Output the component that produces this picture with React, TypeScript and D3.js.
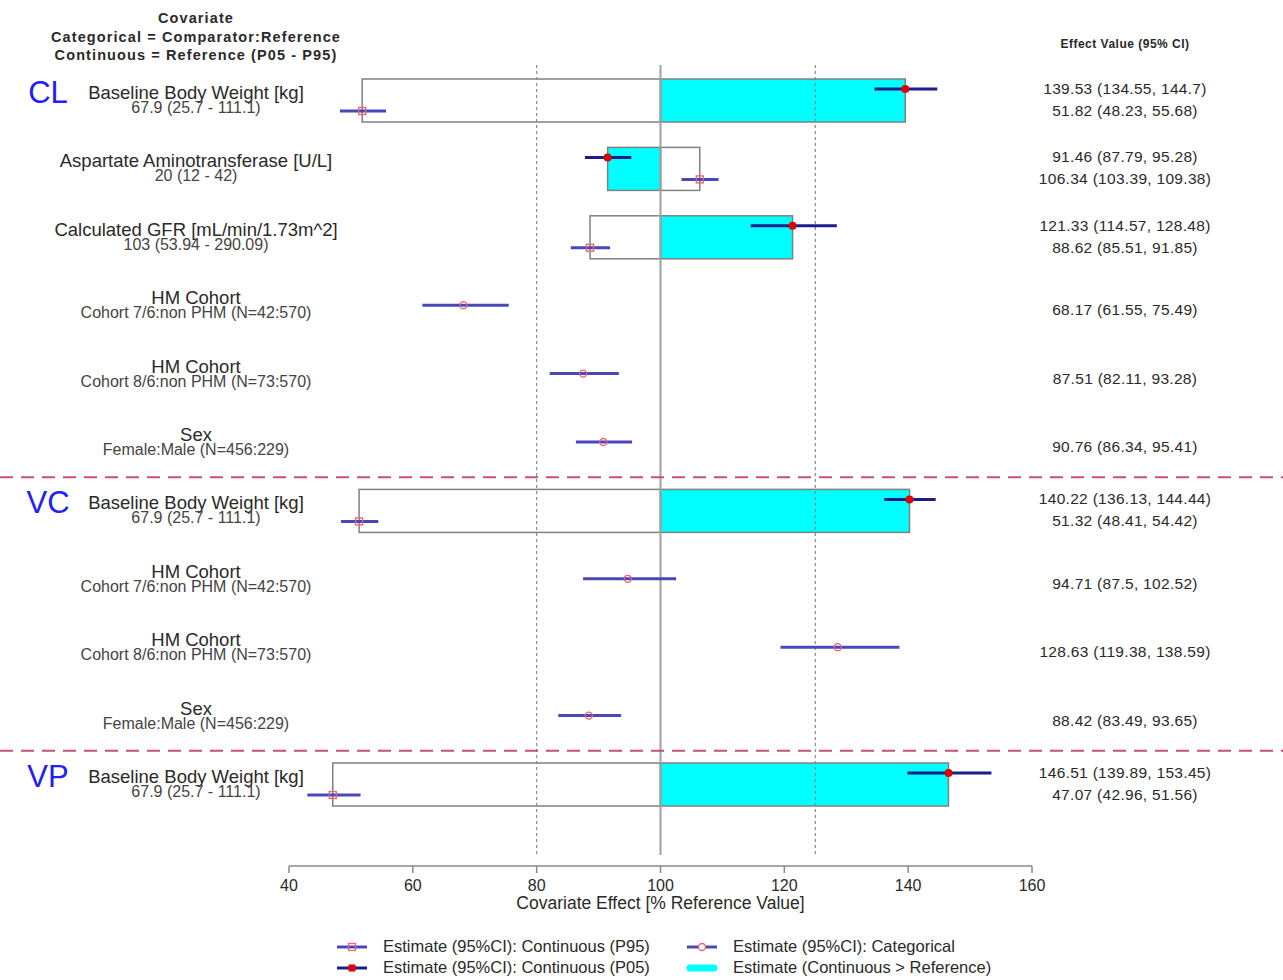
import React from "react";
import * as d3 from "d3";

// ---------- data ----------
const blockNames = ["CL", "VC", "VP"];
const blockStartRow = [0, 6, 10];
const rowLabels = [
  "Baseline Body Weight [kg]",
  "Aspartate Aminotransferase [U/L]",
  "Calculated GFR [mL/min/1.73m^2]",
  "HM Cohort",
  "HM Cohort",
  "Sex",
  "Baseline Body Weight [kg]",
  "HM Cohort",
  "HM Cohort",
  "Sex",
  "Baseline Body Weight [kg]",
];
const rowSubLabels = [
  "67.9 (25.7 - 111.1)",
  "20 (12 - 42)",
  "103 (53.94 - 290.09)",
  "Cohort 7/6:non PHM (N=42:570)",
  "Cohort 8/6:non PHM (N=73:570)",
  "Female:Male (N=456:229)",
  "67.9 (25.7 - 111.1)",
  "Cohort 7/6:non PHM (N=42:570)",
  "Cohort 8/6:non PHM (N=73:570)",
  "Female:Male (N=456:229)",
  "67.9 (25.7 - 111.1)",
];
const rowType = ["cont", "cont", "cont", "cat", "cat", "cat", "cont", "cat", "cat", "cat", "cont"];
// first estimate (upper line of continuous rows, or the categorical estimate)
const est1 = [139.53, 91.46, 121.33, 68.17, 87.51, 90.76, 140.22, 94.71, 128.63, 88.42, 146.51];
const lo1 = [134.55, 87.79, 114.57, 61.55, 82.11, 86.34, 136.13, 87.5, 119.38, 83.49, 139.89];
const hi1 = [144.7, 95.28, 128.48, 75.49, 93.28, 95.41, 144.44, 102.52, 138.59, 93.65, 153.45];
// second estimate (lower line of continuous rows)
const est2 = [51.82, 106.34, 88.62, null, null, null, 51.32, null, null, null, 47.07];
const lo2 = [48.23, 103.39, 85.51, null, null, null, 48.41, null, null, null, 42.96];
const hi2 = [55.68, 109.38, 91.85, null, null, null, 54.42, null, null, null, 51.56];

const xTicks = [40, 60, 80, 100, 120, 140, 160];
const refValue = 100;
const dottedRefs = [80, 125];

const legendItems = [
  "Estimate (95%CI): Continuous (P95)",
  "Estimate (95%CI): Continuous (P05)",
  "Estimate (95%CI): Categorical",
  "Estimate (Continuous > Reference)",
];

// ---------- styles ----------
const W = 1283;
const H = 980;
const FONT = "'Liberation Sans', Arial, Helvetica, sans-serif";
const TEXT = "#2a2a2a";
const CYAN = "#00ffff";
const BAR_STROKE = "#808080";
const LINE_DARK = "#1c1c8c";
const LINE_LIGHT = "#4848b8";
const RED = "#dd0000";
const PINK = "#f06070";
const SEP = "#c4507c";

const x = d3.scaleLinear().domain([40, 160]).range([289, 1032]);
const y = d3.scaleLinear().domain([0, rowLabels.length - 1]).range([100, 784]);
const PAIR = 11;
const BAR_TOP = 21;
const BAR_H = 43;

const fmt = (v: number) => String(v);

export default function App() {
  const rows = d3.range(rowLabels.length);
  const sepRows = blockStartRow.slice(1);
  return (
    <svg
      width={W}
      height={H}
      style={{ position: "absolute", left: 0, top: 0, background: "#fff" }}
      fontFamily={FONT}
    >
      <rect x={0} y={0} width={W} height={H} fill="#fff" />
      {/* header */}
      <g fill={TEXT} fontSize={14.5} fontWeight={600} textAnchor="middle" letterSpacing={1.1}>
        <text x={196} y={23}>Covariate</text>
        <text x={196} y={42}>Categorical = Comparator:Reference</text>
        <text x={196} y={60}>Continuous = Reference (P05 - P95)</text>
      </g>
      <text x={1125} y={48} fontSize={12} fontWeight={700} textAnchor="middle" fill={TEXT} letterSpacing={0.5}>
        Effect Value (95% CI)
      </text>

      {/* bars for continuous rows */}
      {rows.map((i) =>
        rowType[i] === "cont" ? (
          <g key={"bar" + i}>
            <rect
              x={Math.min(x(est2[i] as number), x(refValue))}
              y={y(i) - BAR_TOP}
              width={Math.abs(x(est2[i] as number) - x(refValue))}
              height={BAR_H}
              fill="#fff"
              stroke={BAR_STROKE}
              strokeWidth={1.5}
            />
            <rect
              x={Math.min(x(est1[i]), x(refValue))}
              y={y(i) - BAR_TOP}
              width={Math.abs(x(est1[i]) - x(refValue))}
              height={BAR_H}
              fill={CYAN}
              stroke={BAR_STROKE}
              strokeWidth={1.5}
            />
          </g>
        ) : null
      )}

      {/* reference lines */}
      {dottedRefs.map((v) => (
        <line key={v} x1={x(v)} x2={x(v)} y1={65} y2={855} stroke="#888" strokeWidth={1.2} strokeDasharray="3,3" />
      ))}
      <line x1={x(refValue)} x2={x(refValue)} y1={65} y2={855} stroke="#a0a0a0" strokeWidth={2} />

      {/* separators */}
      {sepRows.map((r) => {
        const yy = (y(r - 1) + y(r)) / 2 + 1;
        return <line key={"sep" + r} x1={0} x2={W} y1={yy} y2={yy} stroke={SEP} strokeWidth={2} strokeDasharray="13,8" />;
      })}

      {/* block labels */}
      {blockNames.map((b, k) => (
        <text key={b} x={48} y={y(blockStartRow[k]) + 3} fontSize={31} fill="#2020ff" textAnchor="middle">
          {b}
        </text>
      ))}

      {/* row labels */}
      {rows.map((i) => (
        <g key={"lab" + i} textAnchor="middle">
          <text x={196} y={y(i) - 1} fontSize={18.5} fill={TEXT}>
            {rowLabels[i]}
          </text>
          <text x={196} y={y(i) + 13} fontSize={16} fill="#444">
            {rowSubLabels[i]}
          </text>
        </g>
      ))}

      {/* CIs and points */}
      {rows.map((i) => {
        if (rowType[i] === "cont") {
          const y1 = y(i) - PAIR;
          const y2 = y(i) + PAIR;
          const e2 = est2[i] as number;
          return (
            <g key={"ci" + i}>
              <line x1={x(lo1[i])} x2={x(hi1[i])} y1={y1} y2={y1} stroke={LINE_DARK} strokeWidth={3} />
              <circle cx={x(est1[i])} cy={y1} r={4} fill={RED} />
              <line x1={x(lo2[i] as number)} x2={x(hi2[i] as number)} y1={y2} y2={y2} stroke={LINE_LIGHT} strokeWidth={3} />
              <rect x={x(e2) - 3.5} y={y2 - 3.5} width={7} height={7} fill="none" stroke={PINK} strokeWidth={1.3} />
            </g>
          );
        }
        return (
          <g key={"ci" + i}>
            <line x1={x(lo1[i])} x2={x(hi1[i])} y1={y(i)} y2={y(i)} stroke={LINE_LIGHT} strokeWidth={3} />
            <circle cx={x(est1[i])} cy={y(i)} r={3.5} fill="none" stroke={PINK} strokeWidth={1.3} />
          </g>
        );
      })}

      {/* effect value texts */}
      {rows.map((i) =>
        rowType[i] === "cont" ? (
          <g key={"val" + i} fontSize={15.5} fill={TEXT} textAnchor="middle" letterSpacing={0.3}>
            <text x={1125} y={y(i) - PAIR + 5}>{`${fmt(est1[i])} (${fmt(lo1[i])}, ${fmt(hi1[i])})`}</text>
            <text x={1125} y={y(i) + PAIR + 5}>{`${fmt(est2[i] as number)} (${fmt(lo2[i] as number)}, ${fmt(hi2[i] as number)})`}</text>
          </g>
        ) : (
          <text key={"val" + i} x={1125} y={y(i) + 10} fontSize={15.5} fill={TEXT} textAnchor="middle" letterSpacing={0.3}>
            {`${fmt(est1[i])} (${fmt(lo1[i])}, ${fmt(hi1[i])})`}
          </text>
        )
      )}

      {/* x axis */}
      <g>
        <line x1={x(40)} x2={x(160)} y1={866} y2={866} stroke="#888" strokeWidth={1.5} />
        {xTicks.map((t) => (
          <g key={"t" + t}>
            <line x1={x(t)} x2={x(t)} y1={866} y2={873} stroke="#888" strokeWidth={1.5} />
            <text x={x(t)} y={891} fontSize={16} fill={TEXT} textAnchor="middle">
              {t}
            </text>
          </g>
        ))}
        <text x={x(100)} y={909} fontSize={17.5} fill={TEXT} textAnchor="middle">
          Covariate Effect [% Reference Value]
        </text>
      </g>

      {/* legend */}
      <g fontSize={16.5} fill={TEXT}>
        {/* P95: open square */}
        <line x1={337} x2={367} y1={947} y2={947} stroke={LINE_LIGHT} strokeWidth={3} />
        <rect x={348.5} y={943.5} width={7} height={7} fill="none" stroke={PINK} strokeWidth={1.3} />
        <text x={383} y={952}>{legendItems[0]}</text>
        {/* P05: filled square */}
        <line x1={337} x2={367} y1={968} y2={968} stroke={LINE_DARK} strokeWidth={3} />
        <rect x={348.5} y={964.5} width={7} height={7} fill={RED} />
        <text x={383} y={973}>{legendItems[1]}</text>
        {/* categorical */}
        <line x1={687} x2={717} y1={947} y2={947} stroke={LINE_LIGHT} strokeWidth={3} />
        <circle cx={702} cy={947} r={3.5} fill="#fff" stroke={PINK} strokeWidth={1.3} />
        <text x={733} y={952}>{legendItems[2]}</text>
        {/* cyan */}
        <line x1={690} x2={714} y1={968} y2={968} stroke={CYAN} strokeWidth={7} strokeLinecap="round" />
        <text x={733} y={973}>{legendItems[3]}</text>
      </g>
    </svg>
  );
}
